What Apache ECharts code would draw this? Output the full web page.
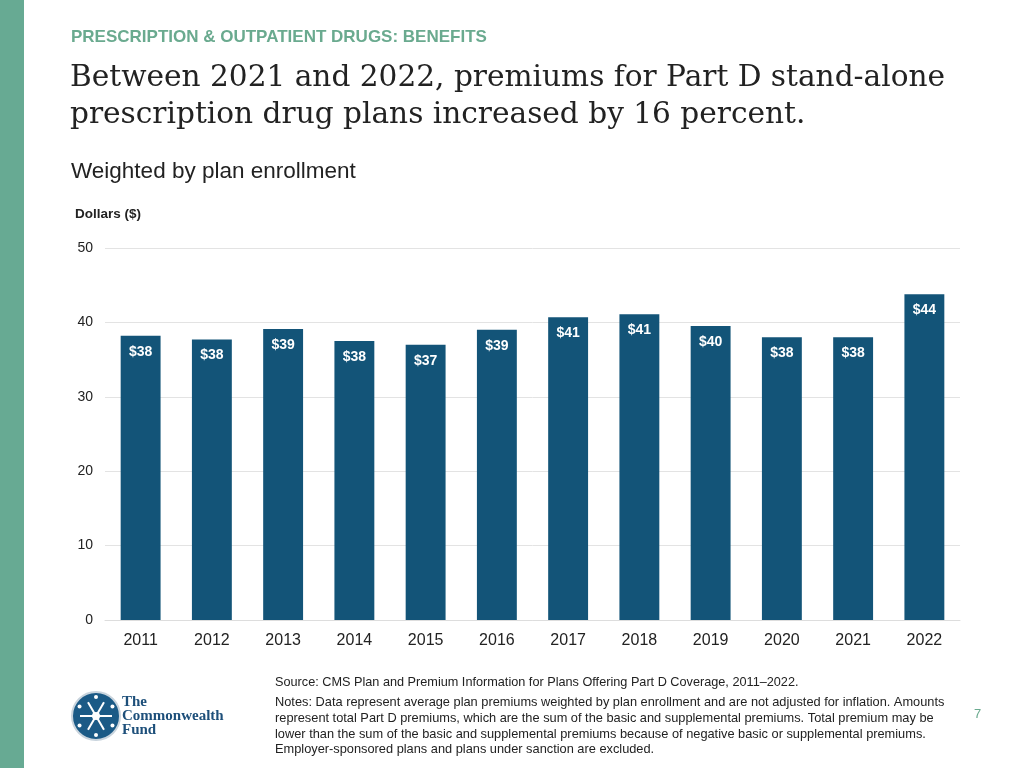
<!DOCTYPE html>
<html>
<head>
<meta charset="utf-8">
<script src="https://cdn.jsdelivr.net/npm/echarts@6/dist/echarts.min.js"></script>
<style>html,body{margin:0;padding:0;background:#fff}#c{width:1024px;height:768px}</style>
</head>
<body>
<div id="c"></div>
<script>
const categories = ['2011','2012','2013','2014','2015','2016','2017','2018','2019','2020','2021','2022'];
const premiums = [38.2, 37.7, 39.1, 37.5, 37.0, 39.0, 40.7, 41.1, 39.5, 38.0, 38.0, 43.8];
const barLabels = ['$38','$38','$39','$38','$37','$39','$41','$41','$40','$38','$38','$44'];
const yTicks = [0, 10, 20, 30, 40, 50];

const chart = echarts.init(document.getElementById('c'));
const sans = '"Liberation Sans", Arial, sans-serif';
const serif = '"DejaVu Serif", "Liberation Serif", serif';
const notes = [
  'Notes: Data represent average plan premiums weighted by plan enrollment and are not adjusted for inflation. Amounts',
  'represent total Part D premiums, which are the sum of the basic and supplemental premiums. Total premium may be',
  'lower than the sum of the basic and supplemental premiums because of negative basic or supplemental premiums.',
  'Employer-sponsored plans and plans under sanction are excluded.'
];
const graphics = [
  {type:'rect', shape:{x:0,y:0,width:24,height:768}, style:{fill:'#67aa93'}},
  {type:'text', left:71, top:29, style:{text:'PRESCRIPTION & OUTPATIENT DRUGS: BENEFITS', font:'bold 17px '+sans, fill:'#6aaa8f'}},
  {type:'text', left:70, top:60, style:{text:'Between 2021 and 2022, premiums for Part D stand-alone\nprescription drug plans increased by 16 percent.', font:'29.6px '+serif, fill:'#222', lineHeight:37}},
  {type:'text', left:71, top:160, style:{text:'Weighted by plan enrollment', font:'22.5px '+sans, fill:'#222'}},
  {type:'text', left:75, top:207, style:{text:'Dollars ($)', font:'bold 13.5px '+sans, fill:'#222'}},
  {type:'text', left:275, top:676, style:{text:'Source: CMS Plan and Premium Information for Plans Offering Part D Coverage, 2011\u20132022.', font:'12.7px '+sans, fill:'#222'}},
  {type:'text', left:275, top:695, style:{text:notes.join('\n'), font:'12.8px '+sans, fill:'#222', lineHeight:15.7}},
  {type:'text', left:974, top:708, style:{text:'7', font:'13px '+sans, fill:'#6aaa8f'}},
  // logo
  {type:'circle', shape:{cx:96, cy:716, r:24}, style:{fill:'#1b5a86', stroke:'#c9d4dd', lineWidth:2}},
  {type:'text', left:122, top:695, style:{text:'The\nCommonwealth\nFund', font:'bold 15px "Liberation Serif", serif', fill:'#1d4f7a', lineHeight:14}}
];
for (let i = 0; i < 6; i++) {
  const a = i * Math.PI / 3;
  graphics.push({type:'line', shape:{x1:96, y1:716, x2:96+16*Math.cos(a), y2:716+16*Math.sin(a)}, style:{stroke:'#fff', lineWidth:2}});
  graphics.push({type:'circle', shape:{cx:96+19*Math.cos(a+Math.PI/6), cy:716+19*Math.sin(a+Math.PI/6), r:2}, style:{fill:'#fff'}});
}
graphics.push({type:'circle', shape:{cx:96, cy:716, r:4}, style:{fill:'#fff'}});

chart.setOption({
  animation:false,
  grid:{left:105, right:64, top:248, bottom:148, containLabel:false},
  xAxis:{type:'category', data:categories,
    axisLine:{lineStyle:{color:'#ddd'}}, axisTick:{show:false},
    axisLabel:{color:'#222', fontSize:16, fontFamily:sans, margin:13}},
  yAxis:{type:'value', min:0, max:50, interval:10,
    axisLine:{show:false}, axisTick:{show:false},
    splitLine:{lineStyle:{color:'#e3e3e3'}},
    axisLabel:{color:'#222', fontSize:14, fontFamily:sans, margin:12,
      formatter:v => yTicks.includes(v) ? String(v) : ''}},
  series:[{type:'bar', data:premiums, barWidth:'56%',
    itemStyle:{color:'#135478'},
    label:{show:true, position:'insideTop', distance:9, color:'#fff', fontWeight:'bold', fontSize:14, fontFamily:sans,
      formatter:p => barLabels[p.dataIndex]}}],
  graphic:graphics
});
</script>
</body>
</html>
